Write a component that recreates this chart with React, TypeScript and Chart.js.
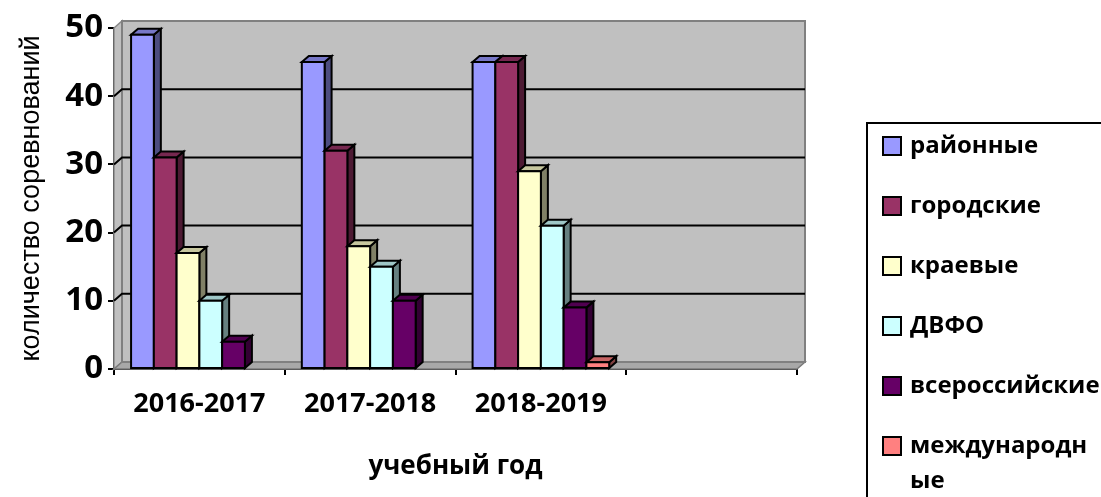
import React, { useEffect, useRef } from 'react';
import { Chart, registerables } from 'chart.js';

Chart.register(...registerables);

const categories = ['2016-2017', '2017-2018', '2018-2019', ''];
const seriesNames = ['районные', 'городские', 'краевые', 'ДВФО', 'всероссийские', 'международные'];
const rayonnye = [49, 45, 45, null];
const gorodskie = [31, 32, 45, null];
const kraevye = [17, 18, 29, null];
const dvfo = [10, 15, 21, null];
const vserossiyskie = [4, 10, 9, null];
const mezhdunarodnye = [0, 0, 1, null];
const seriesColors = ['#9999FF', '#993366', '#FFFFCC', '#CCFFFF', '#660066', '#FF8080'];
const yTicks = [0, 10, 20, 30, 40, 50];
const yTitle = 'количество соревнований';
const xTitle = 'учебный год';

const seriesValues = [rayonnye, gorodskie, kraevye, dvfo, vserossiyskie, mezhdunarodnye];

function shade(hex: string, f: number): string {
  const n = parseInt(hex.slice(1), 16);
  const r = Math.round(((n >> 16) & 255) * f);
  const g = Math.round(((n >> 8) & 255) * f);
  const b = Math.round((n & 255) * f);
  return `rgb(${r},${g},${b})`;
}

function poly(ctx: CanvasRenderingContext2D, pts: number[][], fill: string | null, stroke: string | null, lw = 2) {
  ctx.beginPath();
  ctx.moveTo(pts[0][0], pts[0][1]);
  for (let i = 1; i < pts.length; i++) ctx.lineTo(pts[i][0], pts[i][1]);
  ctx.closePath();
  if (fill) {
    ctx.fillStyle = fill;
    ctx.fill();
  }
  if (stroke) {
    ctx.lineWidth = lw;
    ctx.strokeStyle = stroke;
    ctx.lineJoin = 'miter';
    ctx.stroke();
  }
}

const threeDPlugin = {
  id: 'threeD',
  beforeDatasetsDraw(chart: any) {
    const { ctx, chartArea } = chart;
    const { left: L, right: R, top: T, bottom: B } = chartArea;
    const yScale = chart.scales.y;
    const dx = 8;
    const dy = -7;
    ctx.save();
    // back wall
    ctx.fillStyle = '#C0C0C0';
    ctx.fillRect(L + dx, T + dy, R - L, B - T);
    // side wall
    poly(ctx, [[L, T], [L + dx, T + dy], [L + dx, B + dy], [L, B]], '#C0C0C0', '#8A8A8A', 1.5);
    // floor
    poly(ctx, [[L, B], [L + dx, B + dy], [R + dx, B + dy], [R, B]], '#A8A8A8', '#7A7A7A', 1.5);
    // wall border
    ctx.strokeStyle = '#808080';
    ctx.lineWidth = 2;
    ctx.strokeRect(L + dx, T + dy, R - L, B - T);
    // gridlines on the wall
    const maxV = yTicks[yTicks.length - 1];
    ctx.strokeStyle = '#000';
    ctx.lineWidth = 2;
    for (const v of yTicks) {
      if (v <= 0 || v >= maxV) continue;
      const yy = yScale.getPixelForValue(v);
      ctx.beginPath();
      ctx.moveTo(L, yy);
      ctx.lineTo(L + dx, yy + dy);
      ctx.lineTo(R + dx, yy + dy);
      ctx.stroke();
    }
    // bars
    const bdx = 7;
    const bdy = -6;
    chart.data.datasets.forEach((ds: any, i: number) => {
      const meta = chart.getDatasetMeta(i);
      const col = seriesColors[i];
      meta.data.forEach((el: any, j: number) => {
        const v = ds.data[j];
        if (v === null || v === undefined || v === 0) return;
        const { x, y, base, width } = el.getProps(['x', 'y', 'base', 'width'], true);
        const l = x - width / 2;
        const r = x + width / 2;
        const t = Math.min(y, base);
        const b = Math.max(y, base);
        poly(ctx, [[r, t], [r + bdx, t + bdy], [r + bdx, b + bdy], [r, b]], shade(col, 0.5), '#000', 2);
        poly(ctx, [[l, t], [l + bdx, t + bdy], [r + bdx, t + bdy], [r, t]], shade(col, 0.78), '#000', 2);
        poly(ctx, [[l, t], [r, t], [r, b], [l, b]], col, '#000', 2);
      });
    });
    ctx.restore();
    return false;
  },
  afterDraw(chart: any) {
    const { ctx } = chart;
    ctx.save();
    ctx.strokeStyle = '#000';
    ctx.lineWidth = 2;
    ctx.strokeRect(867, 123, 400, 420);
    ctx.font = 'bold 24px "Open Sans"';
    ctx.textBaseline = 'middle';
    ctx.textAlign = 'left';
    const maxW = 190;
    let cy = 146;
    chart.data.datasets.forEach((ds: any) => {
      ctx.fillStyle = ds.backgroundColor;
      ctx.fillRect(883, cy - 9, 18, 18);
      ctx.strokeStyle = '#000';
      ctx.lineWidth = 2;
      ctx.strokeRect(883, cy - 9, 18, 18);
      const lines: string[] = [];
      let cur = '';
      for (const ch of String(ds.label)) {
        if (ctx.measureText(cur + ch).width > maxW && cur) {
          lines.push(cur);
          cur = ch;
        } else cur += ch;
      }
      if (cur) lines.push(cur);
      ctx.fillStyle = '#000';
      lines.forEach((ln, k) => ctx.fillText(ln, 910, cy + k * 35));
      cy += 60;
    });
    ctx.restore();
  },
};

export default function App() {
  const ref = useRef<HTMLCanvasElement | null>(null);
  useEffect(() => {
    document.body.style.margin = '0';
    if (!ref.current) return;
    Chart.defaults.font.family = '"Open Sans", sans-serif';
    Chart.defaults.color = '#000';
    const chart = new Chart(ref.current, {
      type: 'bar',
      data: {
        labels: categories,
        datasets: seriesNames.map((name, i) => ({
          label: name,
          data: seriesValues[i],
          backgroundColor: seriesColors[i],
          borderColor: '#000',
          borderWidth: 2,
          categoryPercentage: 0.8,
          barPercentage: 1.0,
        })),
      },
      options: {
        responsive: false,
        animation: false,
        layout: { padding: { left: 0, right: 304, top: 28, bottom: 0 } },
        plugins: {
          legend: { display: false },
          tooltip: { enabled: false },
          title: { display: false },
        },
        scales: {
          x: {
            z: 1,
            offset: true,
            grid: {
              display: true,
              offset: true,
              drawOnChartArea: false,
              drawTicks: true,
              tickLength: 6,
              color: '#000',
              lineWidth: 2,
            },
            border: { display: true, color: '#000', width: 2 },
            ticks: {
              color: '#000',
              font: { size: 27, weight: 'bold', family: '"Open Sans"' },
              padding: 13,
              maxRotation: 0,
              autoSkip: false,
            },
            title: {
              display: true,
              text: xTitle,
              color: '#000',
              font: { size: 26, weight: 'bold', family: '"Open Sans"' },
              padding: { top: 0, bottom: 15 },
            },
            afterFit(scale: any) {
              scale.height = 128;
            },
          },
          y: {
            z: 1,
            min: 0,
            max: 50,
            grid: {
              display: true,
              drawOnChartArea: false,
              drawTicks: true,
              tickLength: 6,
              color: '#000',
              lineWidth: 2,
            },
            border: { display: true, color: '#000', width: 2 },
            ticks: {
              stepSize: 10,
              color: '#000',
              font: { size: 33, weight: 'bold', family: '"Open Sans"' },
              padding: 5,
            },
            title: {
              display: true,
              text: yTitle,
              color: '#000',
              font: { size: 27, weight: 'normal', family: '"Liberation Sans"' },
              padding: { top: 15, bottom: 0 },
            },
            afterFit(scale: any) {
              scale.width = 114;
            },
          },
        },
      },
      plugins: [threeDPlugin],
    } as any);
    return () => chart.destroy();
  }, []);
  return (
    <div style={{ width: 1101, height: 497, position: 'relative' }}>
      <canvas ref={ref} width={1101} height={497} />
    </div>
  );
}
